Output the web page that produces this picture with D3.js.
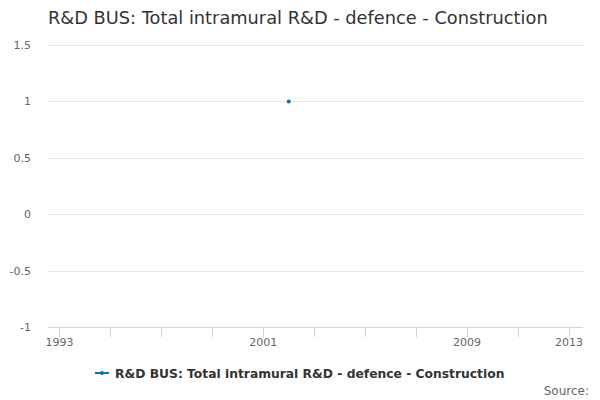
<!DOCTYPE html>
<html>
<head>
<meta charset="utf-8">
<script src="https://cdn.jsdelivr.net/npm/d3@7"></script>
<style>
  body { margin: 0; background: #fff; }
  svg { font-family: "DejaVu Sans", sans-serif; }
</style>
</head>
<body>
<div id="chart"></div>
<script>
const title = 'R&D BUS: Total intramural R&D - defence - Construction';
const seriesName = 'R&D BUS: Total intramural R&D - defence - Construction';
const years = [2002];
const values = [1];
const xTicks = [1993, 1995, 1997, 1999, 2001, 2003, 2005, 2007, 2009, 2011, 2013];
const xLabels = [1993, 2001, 2009, 2013];
const yTicks = [-1, -0.5, 0, 0.5, 1, 1.5];

const width = 600;
const height = 400;
const margin = { top: 45, right: 17, bottom: 73, left: 48 };

const svg = d3.select('#chart').append('svg')
  .attr('width', width)
  .attr('height', height);

const x = d3.scaleLinear()
  .domain([1992.55, 2013.55])
  .range([margin.left, width - margin.right]);

const y = d3.scaleLinear()
  .domain([-1, 1.5])
  .range([height - margin.bottom, margin.top]);

// title
svg.append('text')
  .attr('x', 48)
  .attr('y', 24)
  .attr('fill', '#333')
  .style('font-size', '17.8px')
  .text(title);

// grid + y labels
svg.append('g')
  .selectAll('line')
  .data(yTicks.filter(d => d !== -1))
  .join('line')
  .attr('x1', margin.left)
  .attr('x2', width - margin.right)
  .attr('y1', d => Math.round(y(d)) + 0.5)
  .attr('y2', d => Math.round(y(d)) + 0.5)
  .attr('stroke', '#e6e6e6');

svg.append('g')
  .selectAll('text')
  .data(yTicks)
  .join('text')
  .attr('x', 31)
  .attr('y', d => y(d) + 4)
  .attr('text-anchor', 'end')
  .attr('fill', '#666')
  .style('font-size', '11px')
  .text(d => d);

// x axis
const xAxis = svg.append('g');
xAxis.append('line')
  .attr('x1', margin.left)
  .attr('x2', width - margin.right)
  .attr('y1', Math.round(y(-1)) + 0.5)
  .attr('y2', Math.round(y(-1)) + 0.5)
  .attr('stroke', '#ccd6eb');

xAxis.selectAll('line.tick')
  .data(xTicks)
  .join('line')
  .attr('class', 'tick')
  .attr('x1', d => Math.round(x(d)) + 0.5)
  .attr('x2', d => Math.round(x(d)) + 0.5)
  .attr('y1', y(-1))
  .attr('y2', y(-1) + 10)
  .attr('stroke', '#ccd6eb');

xAxis.selectAll('text')
  .data(xLabels)
  .join('text')
  .attr('x', d => x(d))
  .attr('y', y(-1) + 19)
  .attr('text-anchor', 'middle')
  .attr('fill', '#666')
  .style('font-size', '11px')
  .text(d => d);

// series
const pts = years.map((yr, i) => ({ x: yr, y: values[i] }));
svg.append('path')
  .datum(pts)
  .attr('fill', 'none')
  .attr('stroke', '#0077bb')
  .attr('stroke-width', 2)
  .attr('d', d3.line().x(d => x(d.x)).y(d => y(d.y)));

svg.append('g')
  .selectAll('circle')
  .data(pts)
  .join('circle')
  .attr('cx', d => x(d.x))
  .attr('cy', d => y(d.y))
  .attr('r', 2)
  .attr('fill', '#0077bb');

// legend
const legend = svg.append('g').attr('transform', 'translate(0, 373)');
legend.append('text')
  .attr('x', 115)
  .attr('y', 4.5)
  .attr('fill', '#333')
  .style('font-size', '12.3px')
  .style('font-weight', 'bold')
  .text(seriesName);
legend.append('line')
  .attr('x1', 95).attr('x2', 109)
  .attr('y1', 0).attr('y2', 0)
  .attr('stroke', '#0077bb')
  .attr('stroke-width', 2);
legend.append('circle')
  .attr('cx', 102).attr('cy', 0).attr('r', 2)
  .attr('fill', '#0077bb');

// credits
svg.append('text')
  .attr('x', 589)
  .attr('y', 395)
  .attr('text-anchor', 'end')
  .attr('fill', '#666')
  .style('font-size', '12px')
  .text('Source:');
</script>
</body>
</html>
